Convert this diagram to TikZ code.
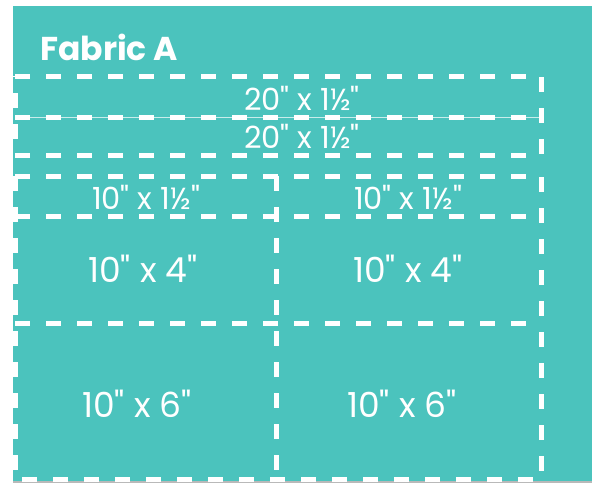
\documentclass[tikz,border=0pt]{standalone}
\usepackage{fontspec}
\setmainfont{Poppins}[Ligatures=TeXOff]
\definecolor{fabricteal}{HTML}{4BC3BD}
\tikzset{
  cutline/.style={white,line width=5pt,dash pattern=on 15pt off 16pt},
  sizelabel/.style={text=white,font=\fontsize{30.5}{32}\selectfont,inner sep=0pt},
  biglabel/.style={text=white,font=\fontsize{34.5}{37}\selectfont,inner sep=0pt}
}
\begin{document}
\begin{tikzpicture}[x=1pt,y=-1pt]
\useasboundingbox (0,0) rectangle (592,483);
% tecido
\fill[white] (0,0) rectangle (592,483);
\fill[gray!55] (13,479) rectangle (592,483);
\fill[fabricteal] (13,6) rectangle (592,481);
\node[text=white,font=\fontsize{33}{36}\selectfont\bfseries,inner sep=0pt,anchor=west] (titulo) at (40,47) {Fabric A};
% cantos das tiras
\coordinate (t1) at (15,76);  \coordinate (t2) at (541,76);
\coordinate (m1) at (15,117); \coordinate (m2) at (541,117);
\coordinate (b1) at (15,155); \coordinate (b2) at (541,155);
% cantos dos blocos
\coordinate (k1) at (15,176);  \coordinate (k2) at (541,176);
\coordinate (s1) at (15,216);  \coordinate (s2) at (541,216);
\coordinate (q1) at (15,323);  \coordinate (q2) at (541,323);
\coordinate (z1) at (15,479);  \coordinate (z2) at (541,479);
\coordinate (vt) at (276,176); \coordinate (vb) at (276,479);
% linhas de corte
\draw[white!70!fabricteal,line width=0.6pt] (m1) -- (m2);
\draw[cutline] (t1) -- (t2) -- (b2) -- (b1) -- cycle;
\draw[cutline] (m1) -- (m2);
\draw[cutline] (k1) -- (k2) -- (z2) -- (z1) -- cycle;
\draw[cutline] (s1) -- (s2);
\draw[cutline] (q1) -- (q2);
\draw[cutline] (vt) -- (vb);
% medidas
\node[sizelabel] (tira1) at (302,98) {20" x 1½"};
\node[sizelabel] (tira2) at (302,136) {20" x 1½"};
\node[sizelabel] (faixa1) at (146,197) {10" x 1½"};
\node[sizelabel] (faixa2) at (408,197) {10" x 1½"};
\node[biglabel] (bloco1) at (143,269) {10" x 4"};
\node[biglabel] (bloco2) at (408,269) {10" x 4"};
\node[biglabel] (bloco3) at (137,404) {10" x 6"};
\node[biglabel] (bloco4) at (402,404) {10" x 6"};
\end{tikzpicture}
\end{document}
